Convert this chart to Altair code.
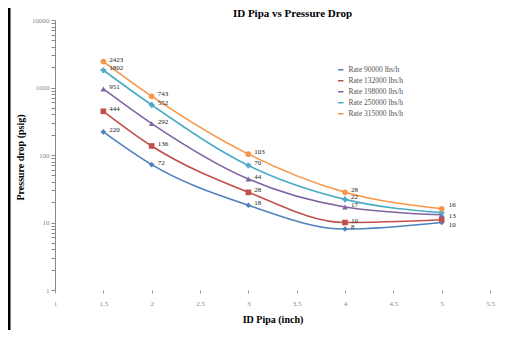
import altair as alt
import pandas as pd

ids = [1.5, 2, 3, 4, 5]
series = ["Rate 90000 lbs/h", "Rate 132000 lbs/h", "Rate 198000 lbs/h",
          "Rate 250000 lbs/h", "Rate 315000 lbs/h"]
rate_90000 = [220, 72, 18, 8, 10]
rate_132000 = [444, 136, 28, 10, 11]
rate_198000 = [951, 292, 44, 17, 13]
rate_250000 = [1802, 552, 70, 22, 14]
rate_315000 = [2423, 743, 103, 28, 16]
# which points carry a data label at ID 5 (the reference shows three there)
show_label_at_5 = ["Rate 90000 lbs/h", "Rate 198000 lbs/h", "Rate 315000 lbs/h"]
colors = ["#4F81BD", "#C0504D", "#8064A2", "#4BACC6", "#F79646"]
shapes = ["diamond", "square", "triangle-up", "cross", "circle"]
x_ticks = [1, 1.5, 2, 2.5, 3, 3.5, 4, 4.5, 5, 5.5]
y_ticks = [m * 10 ** e for e in range(0, 4) for m in range(1, 10)] + [10000]

values = [rate_90000, rate_132000, rate_198000, rate_250000, rate_315000]
rows = []
for s, vals in zip(series, values):
    for x, v in zip(ids, vals):
        lab = str(v) if (x != 5 or s in show_label_at_5) else ""
        rows.append({"id": x, "dp": v, "series": s, "label": lab})
df = pd.DataFrame(rows)

FONT = "Liberation Serif"

xenc = alt.X("id:Q",
             scale=alt.Scale(domain=[1, 5.5], nice=False, zero=False),
             axis=alt.Axis(values=x_ticks, format="~g", title="ID Pipa (inch)", grid=False,
                           domain=False, tickColor="#999", tickSize=3,
                           labelPadding=6, labelColor="#888", labelFontSize=7,
                           labelFont=FONT, titleFont=FONT, titleFontSize=10,
                           titleFontWeight="bold", titleColor="#000",
                           titlePadding=8, labelFlush=False))
yenc = alt.Y("dp:Q",
             scale=alt.Scale(type="log", domain=[1, 10000], nice=False),
             axis=alt.Axis(values=y_ticks, title="Pressure drop (psig)", grid=False,
                           labelExpr="(log(datum.value)/LN10) % 1 < 0.001 || (log(datum.value)/LN10) % 1 > 0.999 ? format(datum.value, 'd') : ''",
                           domainColor="#888", tickColor="#888", tickSize=4,
                           labelColor="#888", labelFontSize=7, labelFont=FONT,
                           titleFont=FONT, titleFontSize=10, titleFontWeight="bold",
                           titleColor="#000", titleX=-30, titleY=137))
cenc = alt.Color("series:N", sort=series,
                 scale=alt.Scale(domain=series, range=colors),
                 legend=alt.Legend(title=None, orient="none", legendX=282, legendY=46,
                                   labelFont=FONT, labelFontSize=7.5, labelColor="#555",
                                   symbolSize=30, rowPadding=2, symbolStrokeWidth=1.5,
                                   symbolType="stroke"))
senc = alt.Shape("series:N", sort=series,
                 scale=alt.Scale(domain=series, range=shapes), legend=None)

base = alt.Chart(df)
lines = base.mark_line(interpolate="monotone", strokeWidth=1.6).encode(
    x=xenc, y=yenc, color=cenc, detail="series:N")
pts = base.mark_point(filled=True, size=32, opacity=1).encode(
    x="id:Q", y="dp:Q", color=alt.Color("series:N", sort=series, legend=None),
    shape=senc)
labels = base.transform_filter("datum.id != 5").mark_text(
    align="left", dx=6, dy=-2, fontSize=7, font=FONT, color="#222"
).encode(x="id:Q", y="dp:Q", text="label:N")

def end_label(name, dy):
    return base.transform_filter(
        alt.FieldEqualPredicate(field="series", equal=name)
    ).transform_filter("datum.id == 5").mark_text(
        align="left", dx=7, dy=dy, fontSize=7, font=FONT, color="#222"
    ).encode(x="id:Q", y="dp:Q", text="label:N")

end_top = end_label(show_label_at_5[2], -4)
end_mid = end_label(show_label_at_5[1], 1)
end_bot = end_label(show_label_at_5[0], 2)

border = alt.Chart(pd.DataFrame({"a": [0]})).mark_rule(
    color="#000", strokeWidth=3).encode(
    x=alt.value(-46), y=alt.value(-12), y2=alt.value(310))

chart = alt.layer(lines, pts, labels, end_top, end_mid, end_bot, border).resolve_scale(
    color="shared", shape="independent"
).properties(
    width=435, height=270,
    autosize=alt.AutoSizeParams(type="none"),
    padding={"left": 47, "top": 12, "right": 5, "bottom": 40},
    title=alt.TitleParams("ID Pipa vs Pressure Drop", font=FONT, fontSize=11,
                          fontWeight="bold", color="#000", offset=-12, dx=20)
).configure_view(stroke=None)

chart.save("out.html", embed_options={"renderer": "svg", "actions": False})
